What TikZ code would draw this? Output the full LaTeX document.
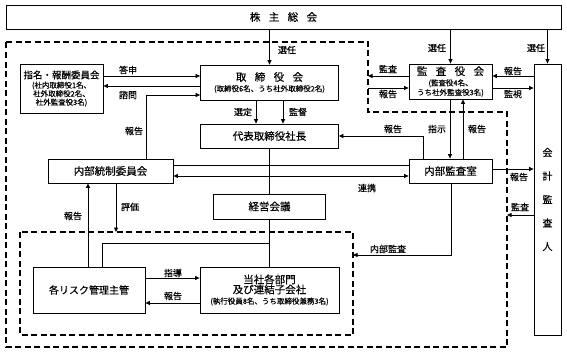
\documentclass[tikz,border=0pt]{standalone}
\usepackage{fontspec}
\setmainfont{Noto Sans CJK JP}[FakeBold=0.35]
\usetikzlibrary{arrows.meta}
\newcommand{\gp}{\hspace{0.8em}}
\newcommand{\smf}{\fontsize{7.5}{9}\selectfont}
\begin{document}
\begin{tikzpicture}[x=1pt,y=-1pt,
  box/.style={draw,line width=0.8pt,inner sep=0pt,align=center,font=\fontsize{10.5}{12}\selectfont},
  lab/.style={font=\fontsize{9}{10}\selectfont,inner sep=0pt},
  arr/.style={line width=0.7pt,-{Triangle[length=4.5pt,width=4pt]}},
  arrb/.style={line width=0.7pt,{Triangle[length=4.5pt,width=4pt]}-{Triangle[length=4.5pt,width=4pt]}},
  ln/.style={line width=0.7pt},
  dsh/.style={line width=1.4pt,dash pattern=on 6pt off 3.5pt}]
\useasboundingbox (0,0) rectangle (567,353);

% dashed frames
\draw[dsh] (6,42) -- (368,42) -- (368,112) -- (507,112) -- (507,347) -- (6,347) -- cycle;
\draw[dsh] (20,232) rectangle (353,335);
\coordinate (dA) at (368,76);
\coordinate (dB) at (368,88);
\coordinate (dC) at (507,215);
\coordinate (dD) at (353,255);
\coordinate (dE) at (116,232);

% nodes
\node[box,minimum width=555pt,minimum height=24pt] (sh) at (283.5,17) {株\gp 主\gp 総\gp 会};
\node[box,minimum width=138pt,minimum height=35pt] (tori) at (269.5,82.5)
  {取\gp 締\gp 役\gp 会\\[-1.5pt]{\smf (取締役6名、うち社外取締役2名)}};
\node[box,minimum width=138pt,minimum height=24pt] (pres) at (269.5,136) {代表取締役社長};
\node[box,minimum width=83pt,minimum height=49pt,font=\fontsize{9.5}{11}\selectfont] (shimei) at (61.5,88.5)
  {指名・報酬委員会\\[-1.5pt]{\smf (社内取締役1名、}\\[-2.5pt]{\smf 社外取締役2名、}\\[-2.5pt]{\smf 社外監査役3名)}};
\node[box,minimum width=125pt,minimum height=24pt] (naibu) at (110.5,171) {内部統制委員会};
\node[box,minimum width=83pt,minimum height=35pt] (kansa) at (450.5,81.5)
  {監\gp 査\gp 役\gp 会\\[-1.5pt]{\smf (監査役4名、}\\[-2.5pt]{\smf うち社外監査役3名)}};
\node[box,minimum width=83pt,minimum height=24pt] (naikan) at (450.5,171) {内部監査室};
\node[box,minimum width=27pt,minimum height=271pt,font=\fontsize{10}{23.5}\selectfont] (kaikei) at (547.5,199.5)
  {会\\計\\監\\査\\人};
\node[box,minimum width=112pt,minimum height=25pt] (keiei) at (269.5,206.5) {経営会議};
\node[box,minimum width=139pt,minimum height=46pt] (tosha) at (269.5,290)
  {当社各部門\\[-2pt]及び連結子会社\\[-1.5pt]{\smf (執行役員8名、うち取締役兼務3名)}};
\node[box,minimum width=112pt,minimum height=46pt,font=\fontsize{10}{12}\selectfont] (risk) at (89,290) {各リスク管理主管};

% connectors
\draw[arr] (sh.south -| tori.north) -- (tori.north);
\draw[arr] (sh.south -| kansa.north) -- (kansa.north);
\draw[arr] (sh.south -| kaikei.north) -- (kaikei.north);
\draw[arr] (shimei.east |- 0,76) -- (tori.west |- 0,76);
\draw[arr] (tori.west |- 0,86) -- (shimei.east |- 0,86);
\draw[arr] (naibu.north -| 146,0) -- (146,95) -- (tori.west |- 0,95);
\draw[arr] (tori.south -| 256,0) -- (pres.north -| 256,0);
\draw[arr] (tori.south -| 283,0) -- (pres.north -| 283,0);
\draw[ln] (pres.south) -- (keiei.north);
\draw[ln] (keiei.south) -- (tosha.north);
\draw[ln] (keiei.south |- 0,243) -- (102,243) -- (risk.north -| 102,0);
\draw[ln] (naibu.east |- 0,165) -- (naikan.west |- 0,165);
\draw[arrb] (naibu.east |- 0,176) -- (naikan.west |- 0,176);
\draw[arr] (risk.north -| 88,0) -- (naibu.south -| 88,0);
\draw[arr] (naibu.south -| dE) -- (dE);
\draw[arr] (risk.east |- 0,278) -- (tosha.west |- 0,278);
\draw[arr] (tosha.west |- 0,303) -- (risk.east |- 0,303);
\draw[arr] (kansa.west |- dA) -- (dA);
\draw[arr] (dB) -- (kansa.west |- dB);
\draw[arr] (kaikei.west |- 0,76) -- (kansa.east |- 0,76);
\draw[arr] (kansa.east |- 0,88) -- (kaikei.west |- 0,88);
\draw[arr] (kansa.south -| 450,0) -- (naikan.north -| 450,0);
\draw[arr] (naikan.north -| 463,0) -- (kansa.south -| 463,0);
\draw[arr] (naikan.north -| 423,0) -- (423,136) -- (pres.east |- 0,136);
\draw[arr] (naikan.east |- 0,169) -- (kaikei.west |- 0,169);
\draw[arr] (kaikei.west |- dC) -- (dC);
\draw[arr] (naikan.south -| 451,0) -- (451,255) -- (dD);

% labels
\node[lab] (l1) at (287,50) {選任};
\node[lab] (l2) at (437,48) {選任};
\node[lab] (l3) at (536,48) {選任};
\node[lab] (l4) at (128,70) {答申};
\node[lab] (l5) at (128,95) {諮問};
\node[lab] (l6) at (134,131) {報告};
\node[lab] (l7) at (243,112) {選定};
\node[lab] (l8) at (298,112) {監督};
\node[lab] (l9) at (388,69) {監査};
\node[lab] (l10) at (388,94) {報告};
\node[lab] (l11) at (513,71) {報告};
\node[lab] (l12) at (513,94) {監視};
\node[lab] (l13) at (393,129) {報告};
\node[lab] (l14) at (437,129) {指示};
\node[lab] (l15) at (477,129) {報告};
\node[lab] (l16) at (519,177) {報告};
\node[lab] (l17) at (520,207) {監査};
\node[lab] (l18) at (367,188) {連携};
\node[lab] (l19) at (388,249) {内部監査};
\node[lab] (l20) at (130,207) {評価};
\node[lab] (l21) at (73,216) {報告};
\node[lab] (l22) at (173,273) {指導};
\node[lab] (l23) at (173,296) {報告};
\end{tikzpicture}
\end{document}
